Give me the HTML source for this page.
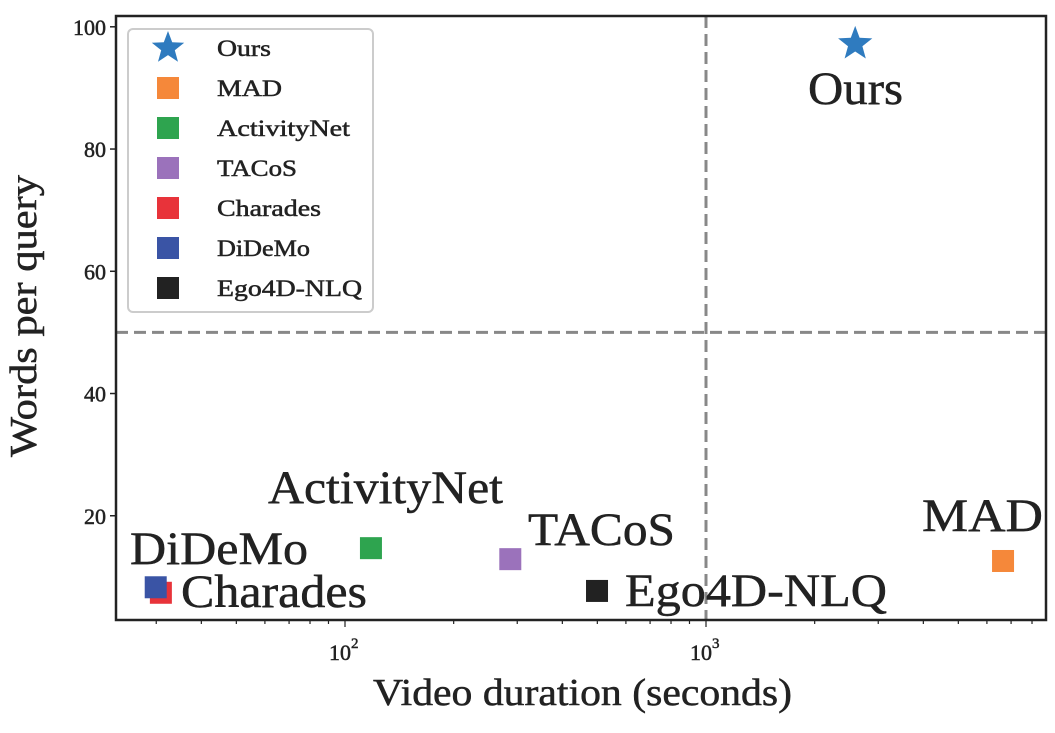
<!DOCTYPE html>
<html><head><meta charset="utf-8"><style>
body{margin:0;background:#fff}
svg text{font-family:"Liberation Serif",serif;fill:#222;stroke:#222;stroke-width:0.5}
</style></head><body>
<svg id="chart" width="1055" height="728" xmlns="http://www.w3.org/2000/svg"></svg>
<script>
const names=["Ours","MAD","ActivityNet","TACoS","Charades","DiDeMo","Ego4D-NLQ"];
const durations=[2590,6650,118,287,30.9,29.9,499];
const words=[97.2,12.6,14.7,12.9,7.4,8.3,7.7];
const colors=["#2f7bbf","#f5883a","#2ea44f","#9b72bb","#e8333a","#3a54a5","#222222"];
const yTicks=[20,40,60,80,100];
const xTicks=[100,1000];
const xTickLabels=["2","3"];

const L=116,R=1046,T=16,B=620;
const x=v=>345+(Math.log10(v)-2)*361;
const y=v=>638-v*6.112;
const svg=document.getElementById('chart');
const NS='http://www.w3.org/2000/svg';
function mk(t,a,parent){const e=document.createElementNS(NS,t);for(const k in a)e.setAttribute(k,a[k]);(parent||svg).appendChild(e);return e;}

let e=mk('line',{x1:x(1000),x2:x(1000),y1:T,y2:B,stroke:'#888','stroke-width':3,'stroke-dasharray':'12,6'});

e=mk('line',{x1:L,x2:R,y1:y(50),y2:y(50),stroke:'#888','stroke-width':3,'stroke-dasharray':'12,6'});


e=mk('rect',{x:L,y:T,width:R-L,height:B-T,fill:'none',stroke:'#222','stroke-width':2.5});


yTicks.forEach(v=>{
 const l=mk('line',{x1:L-6,x2:L,y1:y(v),y2:y(v),stroke:'#222','stroke-width':1.5});
 
 const t=mk('text',{x:L-10,y:y(v)+8,'text-anchor':'end','font-size':22});t.textContent=v;
 
});
for(let d=10;d<=1000;d*=10){for(let m=1;m<10;m++){const v=d*m;const px=x(v);if(px<L||px>R)continue;
 const major=m===1;
 const l=mk('line',{x1:px,x2:px,y1:B,y2:B+(major?7:4),stroke:'#222','stroke-width':1.2});
 }}
xTicks.forEach((v,i)=>{
 const t=mk('text',{x:x(v)-5,y:B+40,'text-anchor':'middle','font-size':22});t.textContent='10';
 
 const s=mk('text',{x:x(v)+6,y:B+28,'font-size':15});s.textContent=xTickLabels[i];
 
});
e=mk('text',{x:373,y:705,'font-size':38,textLength:419,lengthAdjust:'spacingAndGlyphs'});e.textContent='Video duration (seconds)';

e=mk('text',{x:0,y:0,'font-size':38,textLength:282,lengthAdjust:'spacingAndGlyphs',transform:'translate(36 457) rotate(-90)'});e.textContent='Words per query';


function star(cx,cy,r){let p=[];for(let i=0;i<10;i++){const a=-Math.PI/2+i*Math.PI/5;const rr=i%2?r*0.42:r;p.push((cx+rr*Math.cos(a)).toFixed(1)+','+(cy+rr*Math.sin(a)).toFixed(1));}return p.join(' ');}

const lp=[[808,104,95],[922,531,121],[268,503,235],[528,545,147],[181,607,186],[130,564,178],[625,606,262]];
names.forEach((n,i)=>{
 const cx=x(durations[i]),cy=y(words[i]);
 let m;
 if(i===0)m=mk('polygon',{points:star(cx,cy,18),fill:colors[i]});
 else m=mk('rect',{x:cx-11,y:cy-11,width:22,height:22,fill:colors[i]});
 
 const t=mk('text',{x:lp[i][0],y:lp[i][1],'font-size':47,textLength:lp[i][2],lengthAdjust:'spacingAndGlyphs'});
 t.textContent=n;
 
});

const legW=[54,65,133,80,104,93,145];
const g=mk('g',{});
mk('rect',{x:128,y:29,width:245,height:283,rx:5,fill:'#fff',stroke:'#ccc','stroke-width':2},g);
names.forEach((n,i)=>{
 const ly=48+i*40;
 let m;
 if(i===0)m=mk('polygon',{points:star(168,ly,17),fill:colors[i]},g);
 else m=mk('rect',{x:157,y:ly-11,width:22,height:22,fill:colors[i]},g);
 
 const t=mk('text',{x:217,y:ly+8,'font-size':23,textLength:legW[i],lengthAdjust:'spacingAndGlyphs'},g);t.textContent=n;
 
});
</script>
</body></html>
